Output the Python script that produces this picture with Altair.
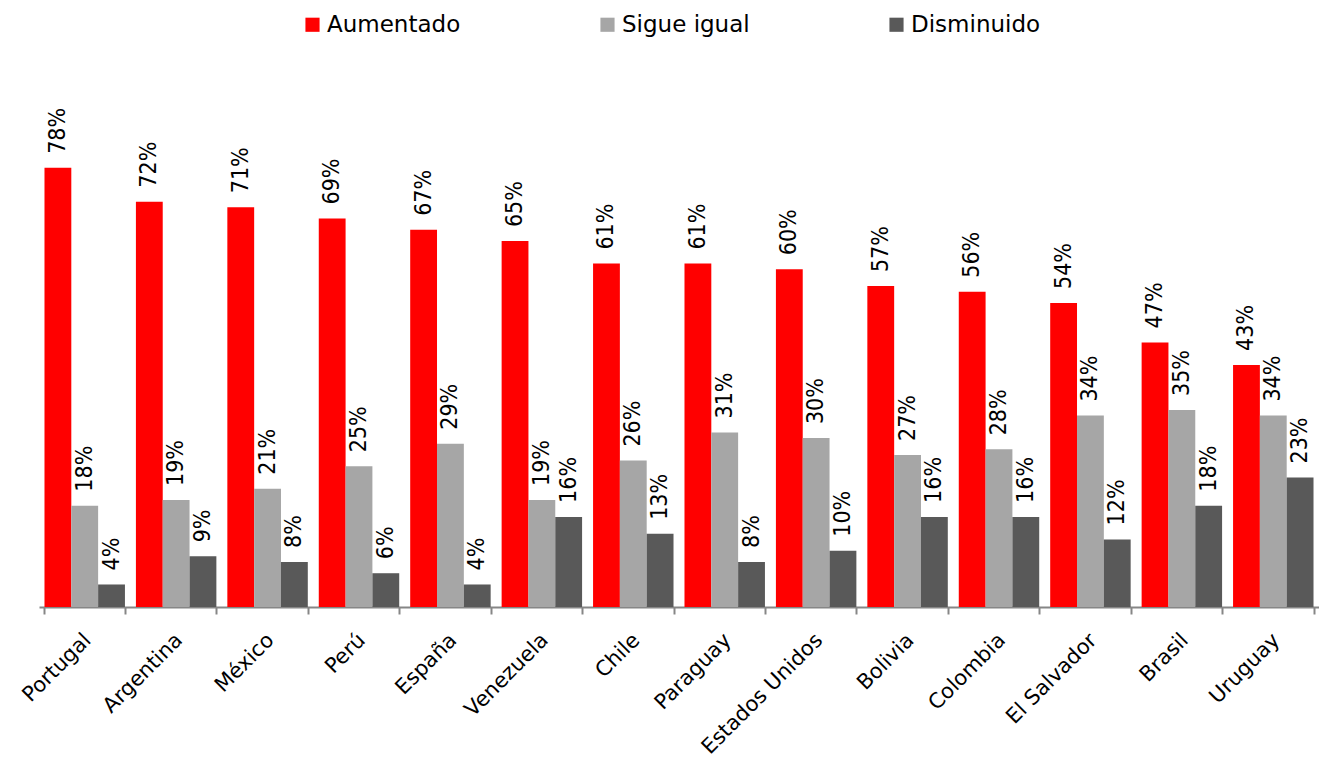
import altair as alt
import pandas as pd

countries = ["Portugal", "Argentina", "México", "Perú", "España", "Venezuela", "Chile",
             "Paraguay", "Estados Unidos", "Bolivia", "Colombia", "El Salvador", "Brasil", "Uruguay"]
aumentado = [78, 72, 71, 69, 67, 65, 61, 61, 60, 57, 56, 54, 47, 43]
sigue_igual = [18, 19, 21, 25, 29, 19, 26, 31, 30, 27, 28, 34, 35, 34]
disminuido = [4, 9, 8, 6, 4, 16, 13, 8, 10, 16, 16, 12, 18, 23]
series = ["Aumentado", "Sigue igual", "Disminuido"]
colors = ["#FF0000", "#A6A6A6", "#595959"]

rows = []
for i, c in enumerate(countries):
    for s, vals in zip(series, [aumentado, sigue_igual, disminuido]):
        rows.append({"pais": c, "serie": s, "valor": vals[i]})
df = pd.DataFrame(rows)

FONT = "DejaVu Sans"
NARROW = "DejaVu Sans Condensed, DejaVu Sans"

x = alt.X("pais:N", sort=countries, title=None,
          scale=alt.Scale(paddingInner=0.12, paddingOuter=0.06),
          axis=alt.Axis(labelAngle=315, labelAlign="right", labelBaseline="top",
                        labelPadding=15, labelOffset=-5, labelFontSize=21, labelFont=FONT,
                        labelColor="#000000", tickBand="extent", tickSize=7,
                        tickColor="#868686", tickWidth=2, domainColor="#868686",
                        domainWidth=2, grid=False, labelOverlap=False))
xo = alt.XOffset("serie:N", sort=series, scale=alt.Scale(paddingInner=0, paddingOuter=0))
y = alt.Y("valor:Q", scale=alt.Scale(domain=[0, 100]), axis=None)

bars = alt.Chart(df).mark_bar().encode(
    x=x, xOffset=xo, y=y,
    color=alt.Color("serie:N", sort=series,
                    scale=alt.Scale(domain=series, range=colors),
                    legend=alt.Legend(title=None, orient="none", direction="horizontal",
                                      legendX=262, legendY=-31, symbolType="square",
                                      symbolSize=200, symbolStrokeWidth=0, labelOffset=3,
                                      columnPadding=135, labelFontSize=23, labelFont=FONT,
                                      labelColor="#000000", labelLimit=300)),
)

labels = alt.Chart(df).transform_calculate(
    txt="datum.valor + '%'"
).mark_text(angle=270, align="left", baseline="middle", dx=14,
            fontSize=23, font=NARROW, color="#000000").encode(
    x=alt.X("pais:N", sort=countries), xOffset=xo, y=y, text="txt:N"
)

chart = alt.layer(bars, labels).properties(
    width=1280, height=563,
    autosize=alt.AutoSizeParams(type="none"),
    padding={"left": 31, "top": 36, "right": 0, "bottom": 153},
).configure_view(stroke=None)

chart.save("out.html", embed_options={"renderer": "svg", "actions": False})
